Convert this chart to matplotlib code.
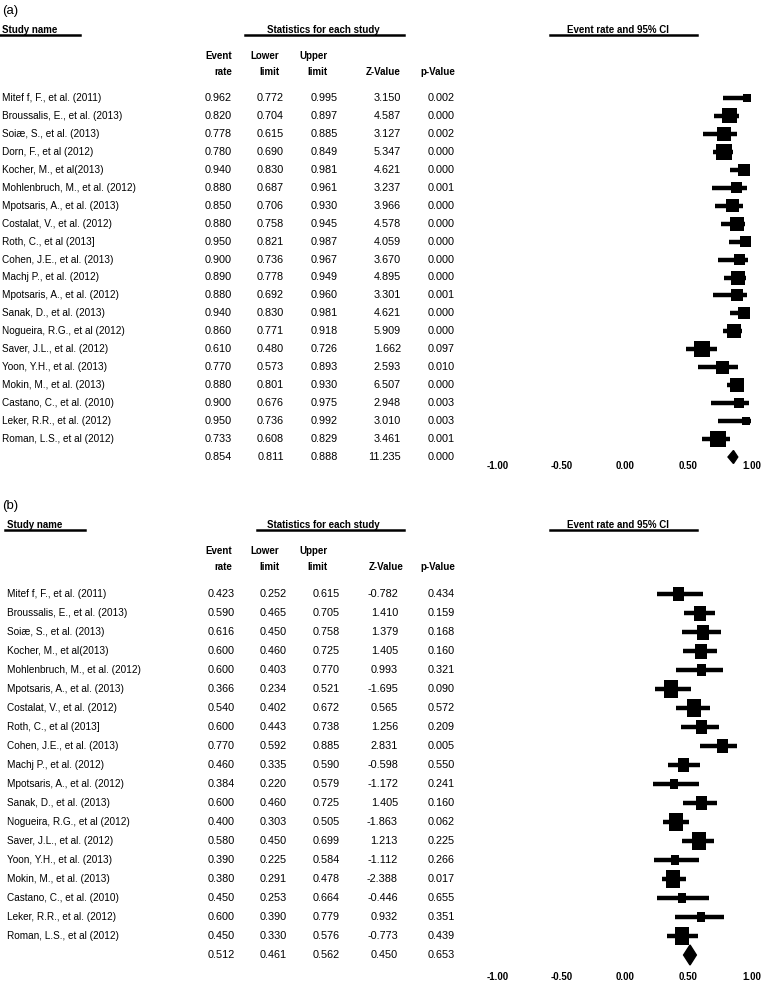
import matplotlib
matplotlib.use("Agg")
import matplotlib.pyplot as plt
from matplotlib.patches import Rectangle, Polygon
from matplotlib.lines import Line2D
from matplotlib.transforms import blended_transform_factory

plt.rcParams['font.family'] = ['Liberation Sans', 'DejaVu Sans']

# ---------------- data: panel (a) ----------------
studies_a = [
    "Mitef f, F., et al. (2011)", "Broussalis, E., et al. (2013)", "Soiæ, S., et al. (2013)",
    "Dorn, F., et al (2012)", "Kocher, M., et al(2013)", "Mohlenbruch, M., et al. (2012)",
    "Mpotsaris, A., et al. (2013)", "Costalat, V., et al. (2012)", "Roth, C., et al (2013]",
    "Cohen, J.E., et al. (2013)", "Machj P., et al. (2012)", "Mpotsaris, A., et al. (2012)",
    "Sanak, D., et al. (2013)", "Nogueira, R.G., et al (2012)", "Saver, J.L., et al. (2012)",
    "Yoon, Y.H., et al. (2013)", "Mokin, M., et al. (2013)", "Castano, C., et al. (2010)",
    "Leker, R.R., et al. (2012)", "Roman, L.S., et al (2012)",
]
rate_a = [0.962, 0.820, 0.778, 0.780, 0.940, 0.880, 0.850, 0.880, 0.950, 0.900,
          0.890, 0.880, 0.940, 0.860, 0.610, 0.770, 0.880, 0.900, 0.950, 0.733]
lower_a = [0.772, 0.704, 0.615, 0.690, 0.830, 0.687, 0.706, 0.758, 0.821, 0.736,
           0.778, 0.692, 0.830, 0.771, 0.480, 0.573, 0.801, 0.676, 0.736, 0.608]
upper_a = [0.995, 0.897, 0.885, 0.849, 0.981, 0.961, 0.930, 0.945, 0.987, 0.967,
           0.949, 0.960, 0.981, 0.918, 0.726, 0.893, 0.930, 0.975, 0.992, 0.829]
zval_a = [3.150, 4.587, 3.127, 5.347, 4.621, 3.237, 3.966, 4.578, 4.059, 3.670,
          4.895, 3.301, 4.621, 5.909, 1.662, 2.593, 6.507, 2.948, 3.010, 3.461]
pval_a = [0.002, 0.000, 0.002, 0.000, 0.000, 0.001, 0.000, 0.000, 0.000, 0.000,
          0.000, 0.001, 0.000, 0.000, 0.097, 0.010, 0.000, 0.003, 0.003, 0.001]
weight_a = [8, 15, 14, 16, 12, 11, 13, 14, 11, 11, 14, 12, 12, 14, 16, 13, 14, 10, 8, 16]
summary_a = [0.854, 0.811, 0.888, 11.235, 0.000]

# ---------------- data: panel (b) ----------------
studies_b = [
    "Mitef f, F., et al. (2011)", "Broussalis, E., et al. (2013)", "Soiæ, S., et al. (2013)",
    "Kocher, M., et al(2013)", "Mohlenbruch, M., et al. (2012)", "Mpotsaris, A., et al. (2013)",
    "Costalat, V., et al. (2012)", "Roth, C., et al (2013]", "Cohen, J.E., et al. (2013)",
    "Machj P., et al. (2012)", "Mpotsaris, A., et al. (2012)", "Sanak, D., et al. (2013)",
    "Nogueira, R.G., et al (2012)", "Saver, J.L., et al. (2012)", "Yoon, Y.H., et al. (2013)",
    "Mokin, M., et al. (2013)", "Castano, C., et al. (2010)", "Leker, R.R., et al. (2012)",
    "Roman, L.S., et al (2012)",
]
rate_b = [0.423, 0.590, 0.616, 0.600, 0.600, 0.366, 0.540, 0.600, 0.770, 0.460,
          0.384, 0.600, 0.400, 0.580, 0.390, 0.380, 0.450, 0.600, 0.450]
lower_b = [0.252, 0.465, 0.450, 0.460, 0.403, 0.234, 0.402, 0.443, 0.592, 0.335,
           0.220, 0.460, 0.303, 0.450, 0.225, 0.291, 0.253, 0.390, 0.330]
upper_b = [0.615, 0.705, 0.758, 0.725, 0.770, 0.521, 0.672, 0.738, 0.885, 0.590,
           0.579, 0.725, 0.505, 0.699, 0.584, 0.478, 0.664, 0.779, 0.576]
zval_b = [-0.782, 1.410, 1.379, 1.405, 0.993, -1.695, 0.565, 1.256, 2.831, -0.598,
          -1.172, 1.405, -1.863, 1.213, -1.112, -2.388, -0.446, 0.932, -0.773]
pval_b = [0.434, 0.159, 0.168, 0.160, 0.321, 0.090, 0.572, 0.209, 0.005, 0.550,
          0.241, 0.160, 0.062, 0.225, 0.266, 0.017, 0.655, 0.351, 0.439]
weight_b = [11, 12, 12, 12, 9, 14, 14, 11, 11, 11, 8, 11, 14, 14, 8, 14, 8, 8, 14]
summary_b = [0.512, 0.461, 0.562, 0.450, 0.653]

xticks = [-1.0, -0.5, 0.0, 0.5, 1.0]

W, H = 761, 983
fig = plt.figure(figsize=(W / 100, H / 100), dpi=100)
FS_NAME = 7.2
FS_NUM = 7.8
FS_HEAD = 7.0


def fx(px):
    return px / W


def fy(py):
    return 1 - py / H


def hline(x0, x1, y, lw=1.8):
    fig.add_artist(Line2D([fx(x0), fx(x1)], [fy(y), fy(y)], color='black', lw=lw))


def panel(label, top, name_x, num_right, head_right, studies, rate, lower, upper,
          zval, pval, weight, summary, row0, drow, ax_bottom, box_aspect, dia_h, stat_x0):
    # titles and header lines
    fig.text(fx(2), fy(top), label, fontsize=9.5, va='center', ha='left')
    t1 = top + 19
    fig.text(fx(name_x), fy(t1), "Study name", fontsize=FS_HEAD, fontweight='bold', va='center')
    hline(name_x - 2, name_x + 78, t1 + 5)
    fig.text(fx(323), fy(t1), "Statistics for each study", fontsize=FS_HEAD,
             fontweight='bold', va='center', ha='center')
    hline(stat_x0, 404, t1 + 5)
    fig.text(fx(618), fy(t1), "Event rate and 95% CI", fontsize=FS_HEAD,
             fontweight='bold', va='center', ha='center')
    hline(550, 697, t1 + 5)

    heads = [("Event", "rate"), ("Lower", "limit"), ("Upper", "limit"),
             ("", "Z-Value"), ("", "p-Value")]
    for (h1, h2), xr in zip(heads, head_right):
        fig.text(fx(xr), fy(t1 + 26), h1, fontsize=FS_HEAD, fontweight='bold',
                 ha='right', va='center')
        fig.text(fx(xr), fy(t1 + 42), h2, fontsize=FS_HEAD, fontweight='bold',
                 ha='right', va='center')

    # forest axes
    n = len(studies)
    top_px = row0 - 0.5 * drow
    ax = fig.add_axes([fx(498), fy(ax_bottom), fx(752) - fx(498), (ax_bottom - top_px) / H])
    ax.set_xlim(-1, 1)
    ax.set_ylim((ax_bottom - row0) / drow, -0.5)
    for s in ax.spines.values():
        s.set_visible(False)
    ax.set_yticks([])
    ax.set_xticks(xticks)
    ax.set_xticklabels([f"{t:.2f}" for t in xticks], fontsize=FS_HEAD, fontweight='bold')
    ax.tick_params(axis='x', length=0, pad=1)

    px_per_x = (fx(752) - fx(498)) * W / 2.0
    tr = blended_transform_factory(fig.transFigure, ax.transData)

    for i in range(n):
        ax.hlines(i, lower[i], upper[i], color='black', lw=3.2)
        bw = weight[i] / px_per_x
        bh = weight[i] * box_aspect / drow
        ax.add_patch(Rectangle((rate[i] - bw / 2, i - bh / 2), bw, bh,
                               facecolor='black', edgecolor='none'))
        ax.text(fx(name_x), i, studies[i], fontsize=FS_NAME, va='center', ha='left', transform=tr)
        vals = [rate[i], lower[i], upper[i], zval[i], pval[i]]
        for v, xr in zip(vals, num_right):
            ax.text(fx(xr), i, f"{v:.3f}", fontsize=FS_NUM, va='center', ha='right', transform=tr)

    # pooled estimate
    est, lo, hi, z, p = summary
    hh = dia_h / drow
    ax.add_patch(Polygon([[lo, n], [est, n - hh], [hi, n], [est, n + hh]], closed=True,
                         facecolor='black', edgecolor='black', clip_on=False))
    for v, xr in zip(summary, num_right):
        ax.text(fx(xr), n, f"{v:.3f}", fontsize=FS_NUM, va='center', ha='right', transform=tr)


panel("(a)", 11, 2, [232, 284, 338, 401, 455], [232, 279, 328, 401, 455],
      studies_a, rate_a, lower_a, upper_a, zval_a, pval_a, weight_a, summary_a,
      row0=98, drow=17.95, ax_bottom=460, box_aspect=1.0, dia_h=6.5, stat_x0=245)
panel("(b)", 506, 7, [235, 287, 340, 398, 455], [232, 279, 328, 404, 455],
      studies_b, rate_b, lower_b, upper_b, zval_b, pval_b, weight_b, summary_b,
      row0=594, drow=19.0, ax_bottom=971, box_aspect=1.25, dia_h=10, stat_x0=257)

fig.savefig("out.png", dpi=100)
